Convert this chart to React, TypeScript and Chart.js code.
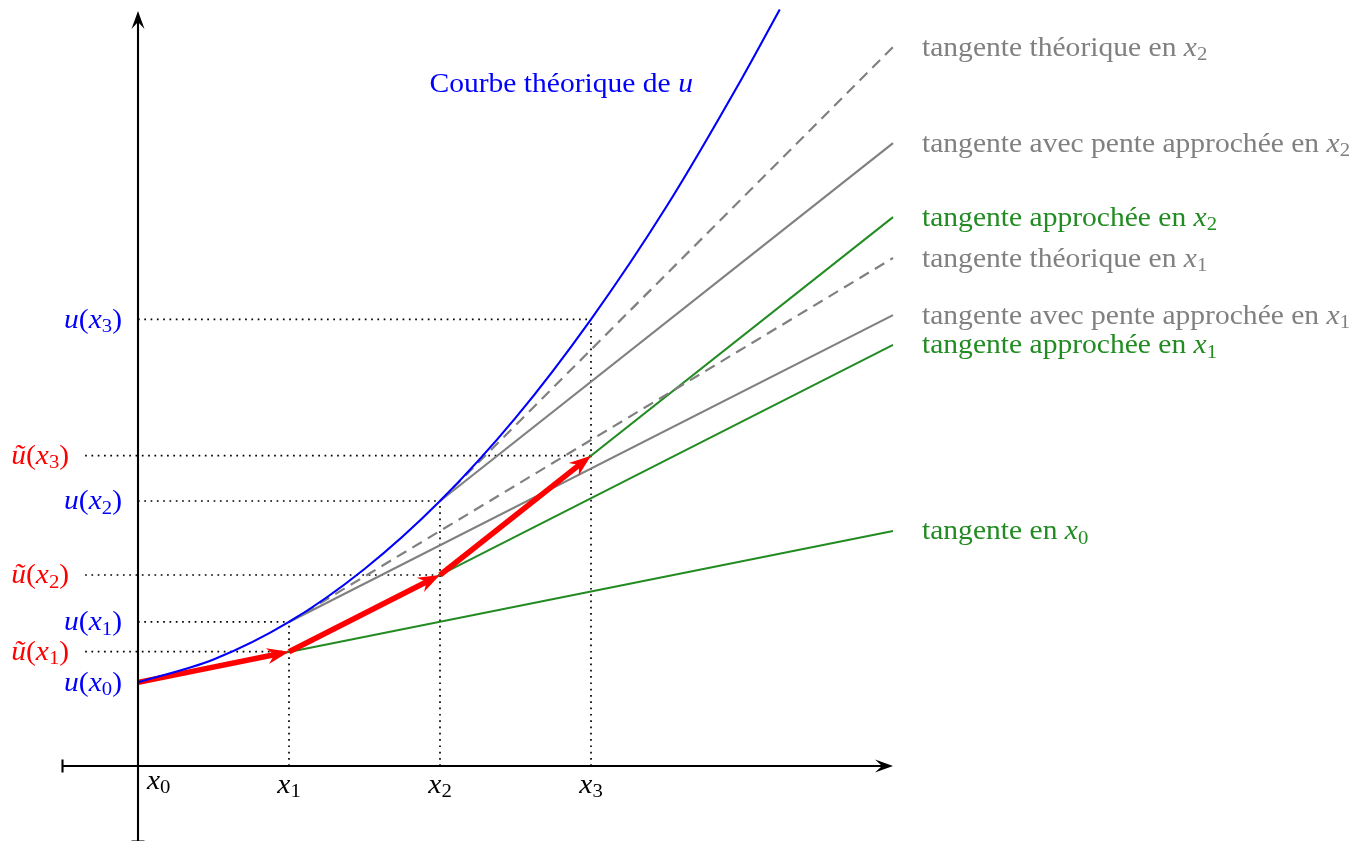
import React, { useEffect, useRef } from "react";
import { Chart, registerables } from "chart.js";

Chart.register(...registerables);

// ---------- values ----------
const nodeX = [0, 1, 2, 3]; // x0 .. x3
const nodeLabels = ["0", "1", "2", "3"];
const exactU = [0.554, 0.954, 1.755, 2.958]; // u(x_i)
const eulerU = [0.554, 0.757, 1.265, 2.055]; // ũ(x_i)
const exactSlope = [0.2005, 0.6025, 1.002]; // u'(x_i)
const approxSlope = [0.2005, 0.508, 0.79]; // approximate slope at x_i
const curveX = [0, 0.5, 1, 1.5, 2, 2.5, 3, 3.5, 4, 4.25];
const curveU = [0.554, 0.705, 0.954, 1.305, 1.755, 2.305, 2.958, 3.705, 4.555, 5.01];
const axisMin = -0.5;
const axisMax = 5;

// ---------- styles ----------
const BLUE = "#0000ff";
const RED = "#ff0000";
const GREEN = "#228b22";
const GRAY = "#808080";
const FONT = '"Liberation Serif", "Times New Roman", serif';
const FS = 26.4;
const SX = 1.12;
const UNIT = 151;
const W = 1360;
const H = 841;
const ORIGIN_X = 138;
const ORIGIN_Y = 766;
const TILDE_GUIDE_START = -0.35;

type Part = { t: string; it?: boolean; sub?: boolean };

const fontOf = (p: Part, fs: number) =>
  `${p.it ? "italic " : ""}${p.sub ? (fs * 0.7).toFixed(1) : fs}px ${FONT}`;

function drawParts(
  ctx: CanvasRenderingContext2D,
  parts: Part[],
  x: number,
  baseline: number,
  align: "left" | "right" | "center",
  color: string,
  fs: number = FS
) {
  ctx.save();
  ctx.fillStyle = color;
  ctx.textBaseline = "alphabetic";
  ctx.textAlign = "left";
  const ws = parts.map((p) => {
    ctx.font = fontOf(p, fs);
    return ctx.measureText(p.t).width * SX;
  });
  const total = ws.reduce((a, b) => a + b, 0);
  let cx = align === "left" ? x : align === "right" ? x - total : x - total / 2;
  parts.forEach((p, i) => {
    ctx.font = fontOf(p, fs);
    ctx.save();
    ctx.translate(cx, baseline + (p.sub ? fs * 0.17 : 0));
    ctx.scale(SX, 1);
    ctx.fillText(p.t, 0, 0);
    ctx.restore();
    cx += ws[i];
  });
  ctx.restore();
}

const xSub = (i: number): Part[] => [
  { t: "x", it: true },
  { t: nodeLabels[i], sub: true },
];
const uLab = (i: number): Part[] => [{ t: "u", it: true }, { t: "(" }, ...xSub(i), { t: ")" }];
const uTildeLab = (i: number): Part[] => [{ t: "ũ", it: true }, { t: "(" }, ...xSub(i), { t: ")" }];

function head(
  ctx: CanvasRenderingContext2D,
  tx: number,
  ty: number,
  dx: number,
  dy: number,
  L: number,
  Wd: number,
  notch: number,
  color: string
) {
  const len = Math.hypot(dx, dy);
  const ux = dx / len;
  const uy = dy / len;
  const px = -uy;
  const py = ux;
  ctx.save();
  ctx.beginPath();
  ctx.moveTo(tx, ty);
  ctx.lineTo(tx - ux * L + px * Wd, ty - uy * L + py * Wd);
  ctx.lineTo(tx - ux * notch, ty - uy * notch);
  ctx.lineTo(tx - ux * L - px * Wd, ty - uy * L - py * Wd);
  ctx.closePath();
  ctx.fillStyle = color;
  ctx.fill();
  ctx.restore();
}

const seg = (x0: number, y0: number, slope: number) => [
  { x: x0, y: y0 },
  { x: axisMax, y: y0 + slope * (axisMax - x0) },
];

const RED_HEAD = { L: 22, W: 8, notch: 15, cut: 12 };

const diagramPlugin = {
  id: "eulerDiagram",
  beforeDatasetsDraw(chart: any) {
    const { ctx, scales } = chart;
    const X = (v: number) => scales.x.getPixelForValue(v);
    const Y = (v: number) => scales.y.getPixelForValue(v);
    ctx.save();
    ctx.strokeStyle = "#000";
    ctx.lineWidth = 1.7;
    ctx.setLineDash([1.7, 4.6]);
    const ln = (a: number, b: number, c: number, d: number) => {
      ctx.beginPath();
      ctx.moveTo(a, b);
      ctx.lineTo(c, d);
      ctx.stroke();
    };
    for (let i = 1; i < nodeX.length; i++) {
      ln(X(nodeX[i]), Y(0), X(nodeX[i]), Y(Math.max(exactU[i], eulerU[i])));
      ln(X(0), Y(exactU[i]), X(nodeX[i]), Y(exactU[i]));
      ln(X(TILDE_GUIDE_START), Y(eulerU[i]), X(nodeX[i]), Y(eulerU[i]));
    }
    ctx.restore();
  },
  beforeDatasetDraw(chart: any, args: any) {
    const ds = chart.data.datasets[args.index];
    if (!ds.arrow) return;
    const pts = args.meta.data;
    const a = pts[0];
    const b = pts[pts.length - 1];
    const dx = b.x - a.x;
    const dy = b.y - a.y;
    const len = Math.hypot(dx, dy);
    const ux = dx / len;
    const uy = dy / len;
    const px = -uy * 200;
    const py = ux * 200;
    const cx = b.x - ux * RED_HEAD.cut;
    const cy = b.y - uy * RED_HEAD.cut;
    const bx = a.x - ux * 200;
    const by = a.y - uy * 200;
    const ctx = chart.ctx;
    ctx.save();
    ctx.beginPath();
    ctx.moveTo(bx + px, by + py);
    ctx.lineTo(cx + px, cy + py);
    ctx.lineTo(cx - px, cy - py);
    ctx.lineTo(bx - px, by - py);
    ctx.closePath();
    ctx.clip();
  },
  afterDatasetDraw(chart: any, args: any) {
    const ds = chart.data.datasets[args.index];
    if (!ds.arrow) return;
    const ctx = chart.ctx;
    ctx.restore();
    const pts = args.meta.data;
    const a = pts[0];
    const b = pts[pts.length - 1];
    head(ctx, b.x, b.y, b.x - a.x, b.y - a.y, RED_HEAD.L, RED_HEAD.W, RED_HEAD.notch, RED);
  },
  afterDatasetsDraw(chart: any) {
    const { ctx, scales } = chart;
    const X = (v: number) => scales.x.getPixelForValue(v);
    const Y = (v: number) => scales.y.getPixelForValue(v);
    ctx.save();
    ctx.strokeStyle = "#000";
    ctx.lineWidth = 2.1;
    // x axis
    const y0 = Y(0);
    ctx.beginPath();
    ctx.moveTo(X(axisMin), y0);
    ctx.lineTo(X(axisMax) - 8, y0);
    ctx.stroke();
    ctx.beginPath();
    ctx.moveTo(X(axisMin), y0 - 6.5);
    ctx.lineTo(X(axisMin), y0 + 6.5);
    ctx.stroke();
    head(ctx, X(axisMax), y0, 1, 0, 18, 6.5, 11, "#000");
    // y axis
    const x0 = X(0);
    ctx.beginPath();
    ctx.moveTo(x0, Y(axisMin));
    ctx.lineTo(x0, Y(axisMax) + 8);
    ctx.stroke();
    ctx.beginPath();
    ctx.moveTo(x0 - 6.5, Y(axisMin));
    ctx.lineTo(x0 + 6.5, Y(axisMin));
    ctx.stroke();
    head(ctx, x0, Y(axisMax), 0, -1, 18, 6.5, 11, "#000");
    ctx.restore();
  },
  afterDraw(chart: any) {
    const { ctx, scales } = chart;
    const X = (v: number) => scales.x.getPixelForValue(v);
    const Y = (v: number) => scales.y.getPixelForValue(v);
    // right-hand labels at the end of each tangent
    chart.data.datasets.forEach((ds: any, i: number) => {
      if (!ds.tag) return;
      const meta = chart.getDatasetMeta(i);
      const last = meta.data[meta.data.length - 1];
      drawParts(ctx, ds.tag, last.x + 29, last.y + 8.5, "left", ds.tagColor);
    });
    // title of the curve
    drawParts(ctx, [{ t: "Courbe théorique de " }, { t: "u", it: true }], X(1.93), Y(4.465), "left", BLUE);
    // y labels
    for (let i = 0; i < nodeX.length; i++) {
      drawParts(ctx, uLab(i), X(0) - 16, Y(exactU[i]) + 8.3, "right", BLUE);
    }
    for (let i = 1; i < nodeX.length; i++) {
      drawParts(ctx, uTildeLab(i), X(TILDE_GUIDE_START) - 16, Y(eulerU[i]) + 8.3, "right", RED);
    }
    // x labels
    drawParts(ctx, xSub(0), X(nodeX[0]) + 9, Y(0) + 23, "left", "#000");
    for (let i = 1; i < nodeX.length; i++) {
      drawParts(ctx, xSub(i), X(nodeX[i]), Y(0) + 27, "center", "#000");
    }
  },
};

export default function App() {
  const ref = useRef<HTMLCanvasElement>(null);
  useEffect(() => {
    const canvas = ref.current;
    if (!canvas) return;
    const line = (data: any[], color: string, width: number, extra: any = {}) => ({
      data,
      showLine: true,
      borderColor: color,
      backgroundColor: color,
      borderWidth: width,
      pointRadius: 0,
      fill: false,
      tension: 0,
      ...extra,
    });
    const redArrows = [0, 1, 2].map((i) =>
      line(
        [
          { x: nodeX[i], y: eulerU[i] },
          { x: nodeX[i + 1], y: eulerU[i + 1] },
        ],
        RED,
        5.5,
        { arrow: true, borderCapStyle: "butt" }
      )
    );
    const datasets: any[] = [
      line(
        curveX.map((x, i) => ({ x, y: curveU[i] })),
        BLUE,
        2.1,
        { cubicInterpolationMode: "monotone" }
      ),
      ...redArrows,
      line(seg(nodeX[1], exactU[1], exactSlope[1]), GRAY, 2.2, {
        borderDash: [11, 7],
        tag: [{ t: "tangente théorique en " }, ...xSub(1)],
        tagColor: GRAY,
      }),
      line(seg(nodeX[2], exactU[2], exactSlope[2]), GRAY, 2.2, {
        borderDash: [11, 7],
        tag: [{ t: "tangente théorique en " }, ...xSub(2)],
        tagColor: GRAY,
      }),
      line(seg(nodeX[1], exactU[1], approxSlope[1]), GRAY, 2.2, {
        tag: [{ t: "tangente avec pente approchée en " }, ...xSub(1)],
        tagColor: GRAY,
      }),
      line(seg(nodeX[2], exactU[2], approxSlope[2]), GRAY, 2.2, {
        tag: [{ t: "tangente avec pente approchée en " }, ...xSub(2)],
        tagColor: GRAY,
      }),
      line(seg(nodeX[0], eulerU[0], exactSlope[0]), GREEN, 2, {
        tag: [{ t: "tangente en " }, ...xSub(0)],
        tagColor: GREEN,
      }),
      line(seg(nodeX[1], eulerU[1], approxSlope[1]), GREEN, 2, {
        tag: [{ t: "tangente approchée en " }, ...xSub(1)],
        tagColor: GREEN,
      }),
      line(seg(nodeX[2], eulerU[2], approxSlope[2]), GREEN, 2, {
        tag: [{ t: "tangente approchée en " }, ...xSub(2)],
        tagColor: GREEN,
      }),
    ];
    const chart = new Chart(canvas, {
      type: "scatter",
      data: { datasets },
      options: {
        responsive: false,
        animation: false,
        devicePixelRatio: 1,
        events: [],
        layout: { padding: 0 },
        plugins: { legend: { display: false }, tooltip: { enabled: false } },
        scales: {
          x: {
            type: "linear",
            display: false,
            bounds: "data",
            min: -ORIGIN_X / UNIT,
            max: (W - ORIGIN_X) / UNIT,
          },
          y: {
            type: "linear",
            display: false,
            bounds: "data",
            min: -(H - ORIGIN_Y) / UNIT,
            max: ORIGIN_Y / UNIT,
          },
        },
      },
      plugins: [diagramPlugin],
    } as any);
    return () => chart.destroy();
  }, []);
  return (
    <div style={{ position: "absolute", left: 0, top: 0, width: W, height: H, background: "#fff" }}>
      <canvas ref={ref} width={W} height={H} style={{ display: "block", width: W, height: H }} />
    </div>
  );
}
